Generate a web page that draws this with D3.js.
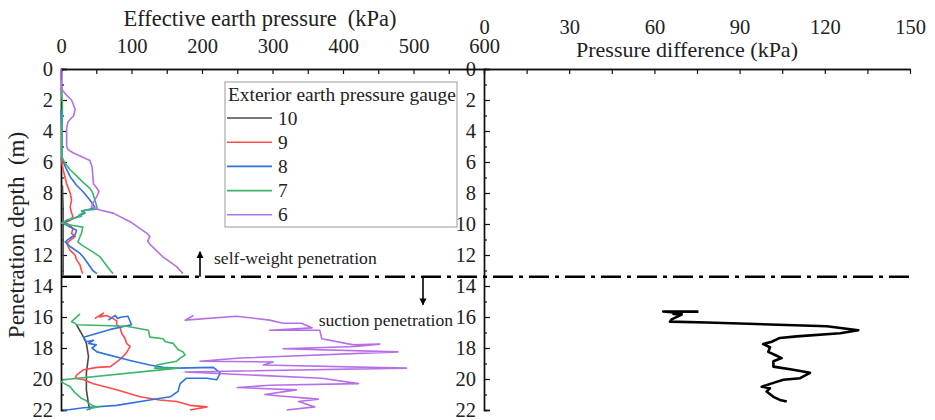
<!DOCTYPE html>
<html>
<head>
<meta charset="utf-8">
<script src="https://cdn.jsdelivr.net/npm/d3@7/dist/d3.min.js"></script>
<style>
  html, body { margin: 0; padding: 0; background: #fff; }
  svg { display: block; }
  text { font-family: "Liberation Serif", "Times New Roman", serif; fill: #222; }
</style>
</head>
<body>
<svg id="chart" width="935" height="420"></svg>
<script>
// ---- data -------------------------------------------------------------
// Effective earth pressure (kPa) against penetration depth (m), one list of
// [depth, pressure] pairs per exterior gauge; null splits the self-weight
// stage from the suction stage.
const gaugeNames = ["10", "9", "8", "7", "6"];

const gauge10 = [
  [7.5, 2], [9, 3], [10, 3], [11, 3], [12, 3], [13.3, 3],
  null,
  [16.5, 22], [17.3, 32], [17.7, 36], [18.55, 39], [19.6, 36], [20.7, 36], [21.6, 39], [22, 41]
];

const gauge9 = [
  [5.7, 0], [6.5, 3], [7.4, 8], [8.0, 13], [8.45, 15], [8.9, 13], [9.3, 15], [9.5, 17], [9.75, 13],
  [9.9, 6], [10.1, 13], [10.3, 17], [10.6, 15], [10.8, 20], [11.05, 13], [11.25, 8], [11.7, 13],
  [12.0, 20], [12.3, 22], [12.65, 27], [13.0, 29], [13.2, 31],
  null,
  [16.1, 48], [15.75, 60], [16.0, 55], [15.9, 64], [16.1, 74], [16.25, 79], [16.5, 79], [16.7, 84],
  [17.05, 86], [17.4, 91], [17.7, 93], [17.9, 98], [18.3, 93], [18.65, 86], [18.9, 79], [19.2, 70],
  [19.25, 51], [19.4, 32], [19.75, 22], [19.95, 20], [20.05, 32], [20.3, 46], [20.7, 79],
  [21.15, 112], [21.35, 140], [21.45, 164], [21.7, 183], [21.8, 207], [22, 183]
];

const gauge8 = [
  [2.6, 0], [4, 1], [5.7, 1], [6.3, 6], [6.95, 13], [7.5, 22], [7.9, 31], [8.45, 41], [8.9, 48],
  [9.0, 45], [9.15, 31], [9.3, 34], [9.45, 27], [9.75, 13], [9.9, 2], [10.2, 13], [10.4, 22],
  [10.7, 20], [10.9, 13], [11.15, 6], [11.45, 13], [11.9, 27], [12.1, 31], [12.4, 36], [13.0, 45], [13.2, 51],
  null,
  [16.2, 67], [15.9, 77], [16.1, 80], [16.0, 86], [15.95, 95], [16.5, 100], [16.8, 70], [17.3, 32],
  [17.6, 36], [17.5, 46], [17.7, 39], [17.8, 50], [18.0, 44], [18.25, 51], [18.8, 98], [19.1, 126],
  [19.25, 145], [19.3, 164], [19.25, 216], [19.6, 226], [20.05, 221], [19.95, 207], [19.95, 178],
  [20.3, 169], [20.8, 166], [21.15, 155], [21.35, 126], [21.7, 79], [21.85, 32], [22, 8], [22, 3]
];

const gauge7 = [
  [1.2, 0], [2.2, 2], [3.0, 2], [4.2, 1], [5.65, 1], [6.1, 6], [6.5, 13], [6.8, 20], [7.3, 31],
  [7.7, 41], [8.0, 45], [8.45, 48], [8.9, 51], [9.05, 51], [9.15, 29], [9.3, 31], [9.4, 26],
  [9.5, 29], [9.75, 8], [9.9, 3], [9.95, 1], [10.1, 17], [10.2, 31], [10.6, 29], [11.15, 24],
  [11.35, 29], [11.8, 45], [12.1, 55], [12.4, 60], [13.0, 70], [13.2, 74],
  null,
  [15.8, 27], [16.3, 15], [16.4, 20], [16.5, 22], [16.6, 93], [16.85, 124], [17.3, 126], [17.4, 145],
  [17.6, 148], [17.7, 159], [18.1, 166], [18.25, 173], [18.45, 176], [18.65, 169], [18.85, 164],
  [19.1, 136], [19.3, 133], [19.3, 166], [20.05, 3], [20.2, 1], [20.5, 13], [20.9, 20], [21.25, 29],
  [21.35, 34], [21.6, 41], [21.75, 46], [21.8, 53], [21.9, 41], [22, 36]
];

const gauge6 = [
  [0, 0], [0.6, 0], [1.3, 1], [1.7, 8], [2.0, 15], [2.6, 20], [3.0, 18], [3.4, 10], [3.8, 8],
  [4.6, 8], [5.0, 8], [5.2, 10], [5.4, 17], [5.9, 41], [6.3, 44], [6.8, 45], [7.4, 46], [7.7, 51],
  [7.9, 54], [8.2, 51], [8.7, 45], [8.9, 43], [9.0, 50], [9.1, 55], [9.3, 74], [9.85, 98],
  [10.6, 122], [10.8, 126], [11.1, 123], [11.3, 126], [12.1, 144], [12.75, 164], [13.2, 173],
  null,
  [15.9, 188], [16.2, 176], [15.95, 249], [16.2, 296], [16.4, 315], [16.4, 341], [16.7, 356],
  [16.85, 296], [16.85, 367], [17.4, 370], [17.8, 415], [17.75, 452], [17.9, 418], [18.05, 315],
  [18.25, 478], [18.65, 254], [18.85, 197], [18.9, 301], [19.1, 287], [19.3, 490], [19.55, 176],
  [19.95, 370], [20.3, 422], [20.4, 296], [20.55, 250], [20.7, 334], [21.0, 289], [21.1, 311],
  [21.3, 365], [21.45, 337], [21.8, 360], [22, 320]
];

const gaugeSeries = [gauge10, gauge9, gauge8, gauge7, gauge6];

// Pressure difference (kPa) during suction penetration
const diffDepth = [15.65, 15.65, 15.7, 15.75, 15.8, 15.85, 16.15, 16.3, 16.35, 16.6, 16.85, 17.05,
  17.25, 17.35, 17.6, 17.75, 17.95, 18.25, 18.45, 18.65, 18.85, 19.2, 19.4, 19.6, 19.95, 20.05,
  20.25, 20.5, 20.6, 20.8, 21.15, 21.35, 21.45];
const diffValue = [75.5, 63.1, 66.7, 69.6, 66.7, 69.6, 66.1, 65.5, 78.4, 120.7, 131.8, 125.4,
  110.1, 104.2, 101.3, 98.3, 100.7, 100.1, 102.5, 104.8, 101.9, 101.9, 108.9, 114.8, 111.3, 105.4,
  101.9, 97.8, 100.7, 99.5, 101.9, 104.2, 106.6];

// Axis ticks
const depthTicks = [0, 2, 4, 6, 8, 10, 12, 14, 16, 18, 20, 22];
const depthMinorTicks = [1, 3, 5, 7, 9, 11, 13, 15, 17, 19, 21];
const pressureTicks = [0, 100, 200, 300, 400, 500, 600];
const pressureMinorTicks = [50, 150, 250, 350, 450, 550];
const diffTicks = [0, 30, 60, 90, 120, 150];
const diffMinorTicks = [15, 45, 75, 105, 135];

const transitionDepth = 13.4;

// ---- styling ----------------------------------------------------------
const gaugeColors = ["#4a4a4a", "#ff4b4b", "#2f73e0", "#3cb56a", "#b66fe6"];

const svg = d3.select("#chart");

const y = d3.scaleLinear().domain([0, 22]).range([69, 410]);
const xL = d3.scaleLinear().domain([0, 600]).range([61, 484]);
const xR = d3.scaleLinear().domain([0, 150]).range([484, 910]);

function styleAxis(g) {
  g.select(".domain").attr("stroke", "#111").attr("stroke-width", 1.4);
  g.selectAll(".tick line").attr("stroke", "#111").attr("stroke-width", 1.2);
  g.selectAll("text").attr("font-size", 20.5).attr("fill", "#222");
}

// Depth axes (left of each panel, ticks pointing into the plot)
function depthAxis(x0) {
  const major = svg.append("g").attr("transform", `translate(${x0},0)`)
    .call(d3.axisLeft(y).tickValues(depthTicks).tickSize(-6).tickPadding(8).tickFormat(d3.format("d")));
  major.selectAll("text").attr("dy", "0.34em");
  styleAxis(major);
  const minor = svg.append("g").attr("transform", `translate(${x0},0)`)
    .call(d3.axisLeft(y).tickValues(depthMinorTicks).tickSize(-3).tickFormat(""));
  styleAxis(minor);
  return major;
}
depthAxis(61);
depthAxis(484);

// Top pressure axes
function topAxis(scale, ticks, minorTicks, pad) {
  const major = svg.append("g").attr("transform", "translate(0,69)")
    .call(d3.axisTop(scale).tickValues(ticks).tickSize(-5).tickPadding(pad).tickSizeOuter(0));
  styleAxis(major);
  major.selectAll("text").attr("dy", "0em");
  const minor = svg.append("g").attr("transform", "translate(0,69)")
    .call(d3.axisTop(scale).tickValues(minorTicks).tickSize(-5).tickFormat("").tickSizeOuter(0));
  styleAxis(minor);
  return major;
}
topAxis(xL, pressureTicks, pressureMinorTicks, 16);
topAxis(xR, diffTicks, diffMinorTicks, 35);

// Axis titles
svg.append("text").attr("x", 260).attr("y", 26).attr("text-anchor", "middle")
  .attr("font-size", 22.5).text("Effective earth pressure\u00a0 (kPa)");
svg.append("text").attr("x", 687).attr("y", 57).attr("text-anchor", "middle")
  .attr("font-size", 22).text("Pressure difference (kPa)");
svg.append("text").attr("transform", "translate(24,235) rotate(-90)").attr("text-anchor", "middle")
  .attr("font-size", 23).text("Penetration depth\u00a0 (m)");

// Gauge curves
const gaugeLine = d3.line()
  .defined(d => d !== null)
  .x(d => xL(d[1]))
  .y(d => y(d[0]));

gaugeSeries.forEach((series, i) => {
  svg.append("path")
    .datum(series)
    .attr("fill", "none")
    .attr("stroke", gaugeColors[i])
    .attr("stroke-width", 1.6)
    .attr("stroke-linejoin", "round")
    .attr("d", gaugeLine);
});

// Pressure difference curve
const diffLine = d3.line()
  .x(d => xR(d[1]))
  .y(d => y(d[0]));
svg.append("path")
  .datum(diffDepth.map((d, i) => [d, diffValue[i]]))
  .attr("fill", "none")
  .attr("stroke", "#000")
  .attr("stroke-width", 2.6)
  .attr("stroke-linejoin", "round")
  .attr("d", diffLine);

// Stage boundary
svg.append("line")
  .attr("x1", 61).attr("x2", 910)
  .attr("y1", y(transitionDepth)).attr("y2", y(transitionDepth))
  .attr("stroke", "#000").attr("stroke-width", 2.6)
  .attr("stroke-dasharray", "20,6,4,6");

// Stage arrows and notes
const defs = svg.append("defs");
defs.append("marker").attr("id", "arrowHead")
  .attr("viewBox", "0 0 10 10").attr("refX", 9).attr("refY", 5)
  .attr("markerWidth", 7).attr("markerHeight", 9).attr("markerUnits", "userSpaceOnUse")
  .attr("orient", "auto")
  .append("path").attr("d", "M0,0 L10,5 L0,10 Z").attr("fill", "#000");

svg.append("line")
  .attr("x1", 200).attr("x2", 200)
  .attr("y1", y(transitionDepth)).attr("y2", y(transitionDepth) - 25)
  .attr("stroke", "#000").attr("stroke-width", 1.6).attr("marker-end", "url(#arrowHead)");
svg.append("text").attr("x", 214).attr("y", 264).attr("font-size", 17.6).text("self-weight penetration");

svg.append("line")
  .attr("x1", 423).attr("x2", 423)
  .attr("y1", y(transitionDepth)).attr("y2", y(transitionDepth) + 28)
  .attr("stroke", "#000").attr("stroke-width", 1.6).attr("marker-end", "url(#arrowHead)");
svg.append("text").attr("x", 453).attr("y", 326).attr("text-anchor", "end")
  .attr("font-size", 17.6).text("suction penetration");

// Legend
const legend = svg.append("g").attr("transform", "translate(225,82)");
legend.append("rect").attr("x", 0).attr("y", 0).attr("width", 232).attr("height", 145)
  .attr("fill", "#fff").attr("stroke", "#999").attr("stroke-width", 1);
legend.append("text").attr("x", 3).attr("y", 19).attr("font-size", 19.4).text("Exterior earth pressure gauge");
gaugeNames.forEach((name, i) => {
  const ly = 36 + i * 24.2;
  legend.append("line").attr("x1", 2).attr("x2", 47).attr("y1", ly).attr("y2", ly)
    .attr("stroke", gaugeColors[i]).attr("stroke-width", 1.6);
  legend.append("text").attr("x", 53).attr("y", ly + 6.5).attr("font-size", 19.4).text(name);
});
</script>
</body>
</html>
